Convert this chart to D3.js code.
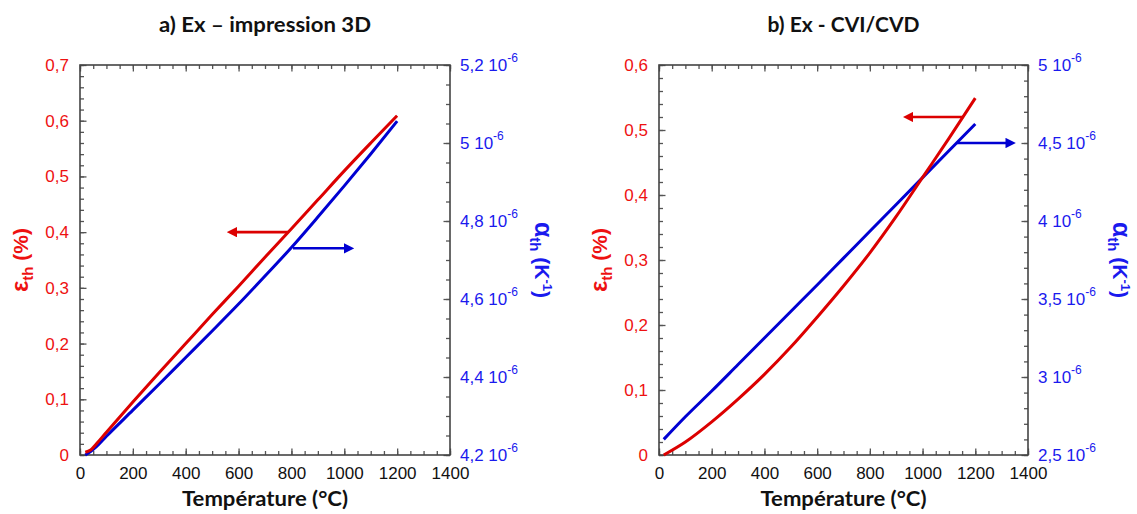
<!DOCTYPE html>
<html><head><meta charset="utf-8">
<script src="https://cdn.jsdelivr.net/npm/d3@7"></script>
<style>html,body{margin:0;padding:0;background:#fff;}svg{display:block;}</style>
</head><body>
<svg id="chart" width="1137" height="514"></svg>
<script>
// ---------- DATA ----------
// Panel a) Ex – impression 3D
const tempA   = [20, 40, 60, 100, 200, 300, 400, 500, 600, 700, 800, 900, 1000, 1100, 1200];
const strainA = [0.005, 0.009, 0.019, 0.041, 0.095, 0.148, 0.200, 0.252, 0.303, 0.355, 0.406, 0.458, 0.510, 0.560, 0.609];
const alphaA  = [4.200, 4.209, 4.220, 4.248, 4.315, 4.382, 4.450, 4.518, 4.587, 4.659, 4.732, 4.810, 4.890, 4.972, 5.056]; // x 10^-6 K^-1
// Panel b) Ex - CVI/CVD
const tempB   = [18, 100, 200, 300, 400, 500, 600, 700, 800, 900, 1000, 1100, 1200];
const strainB = [0.000, 0.020, 0.051, 0.086, 0.124, 0.166, 0.212, 0.260, 0.311, 0.367, 0.427, 0.487, 0.549];
const alphaB  = [2.600, 2.745, 2.910, 3.080, 3.250, 3.420, 3.590, 3.762, 3.934, 4.106, 4.278, 4.450, 4.622]; // x 10^-6 K^-1

// tick values & labels
const tempTicks = [0, 200, 400, 600, 800, 1000, 1200, 1400];
const tempTickLabels = ["0", "200", "400", "600", "800", "1000", "1200", "1400"];
const strainTicksA = [0, 0.1, 0.2, 0.3, 0.4, 0.5, 0.6, 0.7];
const strainTickLabelsA = ["0", "0,1", "0,2", "0,3", "0,4", "0,5", "0,6", "0,7"];
const alphaTicksA = [4.2, 4.4, 4.6, 4.8, 5.0, 5.2];
const alphaTickLabelsA = ["4,2", "4,4", "4,6", "4,8", "5", "5,2"];
const strainTicksB = [0, 0.1, 0.2, 0.3, 0.4, 0.5, 0.6];
const strainTickLabelsB = ["0", "0,1", "0,2", "0,3", "0,4", "0,5", "0,6"];
const alphaTicksB = [2.5, 3.0, 3.5, 4.0, 4.5, 5.0];
const alphaTickLabelsB = ["2,5", "3", "3,5", "4", "4,5", "5"];

// legend arrows: [temperature start, temperature end], level on the axis of the curve
const arrowStrainTempA = [787, 560]; const arrowStrainLevelA = 0.40;
const arrowAlphaTempA  = [806, 1033]; const arrowAlphaLevelA = 4.73;
const arrowStrainTempB = [1155, 930]; const arrowStrainLevelB = 0.52;
const arrowAlphaTempB  = [1130, 1349]; const arrowAlphaLevelB = 4.50;

const titles = ["a) Ex \u2013 impression 3D", "b) Ex - CVI/CVD"];
const xTitle = "Température (°C)";

// ---------- DRAW ----------
const RED = "#dc0000", BLUE = "#0000d2", RED_T = "#ee1111", BLUE_T = "#1a1aee";
const svg = d3.select("#chart");
const defs = svg.append("defs");
[["arrRed", RED], ["arrBlue", BLUE]].forEach(([id, c]) => {
  defs.append("marker").attr("id", id).attr("viewBox", "0 0 10 10").attr("refX", 2).attr("refY", 5)
    .attr("markerWidth", 4).attr("markerHeight", 4).attr("markerUnits", "strokeWidth").attr("orient", "auto")
    .append("path").attr("d", "M0,0 L10,5 L0,10 Z").attr("fill", c);
});

const TICKFONT = "Arial, 'Liberation Sans', Helvetica, sans-serif";
const TITLEFONT = "Lato, 'Open Sans', sans-serif";

function panel(cfg) {
  const { x0, x1, y0, y1 } = cfg;
  const g = svg.append("g");
  const x = d3.scaleLinear().domain([0, 1400]).range([x0, x1]);
  const yL = d3.scaleLinear().domain([cfg.strainTicks[0], cfg.strainTicks[cfg.strainTicks.length - 1]]).range([y1, y0]);
  const yR = d3.scaleLinear().domain([cfg.alphaTicks[0], cfg.alphaTicks[cfg.alphaTicks.length - 1]]).range([y1, y0]);

  const styleAxis = sel => {
    sel.select(".domain").remove();
    sel.selectAll(".tick line").attr("stroke", "#555").attr("stroke-width", 1.3);
    sel.attr("font-size", 17).attr("font-family", TICKFONT);
    sel.selectAll("text").style("font-family", TICKFONT);
  };
  const minorRange = (a, b, step) => d3.range(Math.round(a / step), Math.round(b / step) + 1).map(k => +(k * step).toFixed(4));

  // minor ticks
  const xMinor = minorRange(0, 1400, 50);
  g.append("g").attr("transform", `translate(0,${y1})`).call(d3.axisBottom(x).tickValues(xMinor).tickSize(-4).tickFormat("")).call(styleAxis);
  g.append("g").attr("transform", `translate(0,${y0})`).call(d3.axisTop(x).tickValues(xMinor).tickSize(-4).tickFormat("")).call(styleAxis);
  g.append("g").attr("transform", `translate(${x0},0)`).call(d3.axisLeft(yL).tickValues(minorRange(yL.domain()[0], yL.domain()[1], 0.02)).tickSize(-4).tickFormat("")).call(styleAxis);
  g.append("g").attr("transform", `translate(${x1},0)`).call(d3.axisRight(yR).tickValues(minorRange(yR.domain()[0], yR.domain()[1], cfg.alphaMinor)).tickSize(-4).tickFormat("")).call(styleAxis);

  // major ticks
  g.append("g").attr("transform", `translate(0,${y1})`)
    .call(d3.axisBottom(x).tickValues(tempTicks).tickSizeInner(-6.5).tickSizeOuter(0).tickPadding(12)
      .tickFormat(d => tempTickLabels[tempTicks.indexOf(d)]))
    .call(styleAxis).selectAll("text").attr("fill", "#111");
  g.append("g").attr("transform", `translate(0,${y0})`)
    .call(d3.axisTop(x).tickValues(tempTicks).tickSizeInner(-6.5).tickSizeOuter(0).tickFormat("")).call(styleAxis);
  g.append("g").attr("transform", `translate(${x0},0)`)
    .call(d3.axisLeft(yL).tickValues(cfg.strainTicks).tickSizeInner(-6.5).tickSizeOuter(0).tickPadding(11)
      .tickFormat(d => cfg.strainLabels[cfg.strainTicks.indexOf(d)]))
    .call(styleAxis).selectAll("text").attr("fill", RED_T);
  const ra = g.append("g").attr("transform", `translate(${x1},0)`)
    .call(d3.axisRight(yR).tickValues(cfg.alphaTicks).tickSizeInner(-6.5).tickSizeOuter(0).tickPadding(10)
      .tickFormat(d => cfg.alphaLabels[cfg.alphaTicks.indexOf(d)]))
    .call(styleAxis);
  ra.selectAll("text").attr("fill", BLUE_T).each(function (d) {
    const t = d3.select(this);
    const lab = cfg.alphaLabels[cfg.alphaTicks.indexOf(d)];
    t.text(null);
    t.append("tspan").text(lab + " 10");
    t.append("tspan").attr("font-size", 12).attr("dy", -9).text("-6");
  });

  // frame
  g.append("rect").attr("x", x0).attr("y", y0).attr("width", x1 - x0).attr("height", y1 - y0)
    .attr("fill", "none").attr("stroke", "#444").attr("stroke-width", 1.6);

  // curves
  const lineL = d3.line().x((d, i) => x(cfg.temp[i])).y(d => yL(d)).curve(d3.curveMonotoneX);
  const lineR = d3.line().x((d, i) => x(cfg.temp[i])).y(d => yR(d)).curve(d3.curveMonotoneX);
  g.append("path").attr("d", lineR(cfg.alpha)).attr("fill", "none").attr("stroke", BLUE).attr("stroke-width", 3);
  g.append("path").attr("d", lineL(cfg.strain)).attr("fill", "none").attr("stroke", RED).attr("stroke-width", 3);

  // arrows
  g.append("line").attr("x1", x(cfg.arrS[0])).attr("x2", x(cfg.arrS[1]) + 7).attr("y1", yL(cfg.arrSLevel)).attr("y2", yL(cfg.arrSLevel))
    .attr("stroke", RED).attr("stroke-width", 2.6).attr("marker-end", "url(#arrRed)");
  g.append("line").attr("x1", x(cfg.arrA[0])).attr("x2", x(cfg.arrA[1]) - 7).attr("y1", yR(cfg.arrALevel)).attr("y2", yR(cfg.arrALevel))
    .attr("stroke", BLUE).attr("stroke-width", 2.6).attr("marker-end", "url(#arrBlue)");

  // titles
  const cx = (x0 + x1) / 2;
  g.append("text").attr("x", cx).attr("y", 32).attr("text-anchor", "middle")
    .attr("font-family", TITLEFONT).attr("font-weight", 700).attr("font-size", 20).attr("fill", "#111")
    .attr("textLength", cfg.titleLen).attr("lengthAdjust", "spacingAndGlyphs").text(cfg.title);
  g.append("text").attr("x", cx).attr("y", 506).attr("text-anchor", "middle")
    .attr("font-family", TITLEFONT).attr("font-weight", 700).attr("font-size", 21).attr("fill", "#111")
    .attr("textLength", 166).attr("lengthAdjust", "spacingAndGlyphs").text(xTitle);

  const cy = (y0 + y1) / 2;
  const lt = g.append("text").attr("transform", `translate(${x0 - 52},${cy}) rotate(-90)`).attr("text-anchor", "middle")
    .style("font-family", TICKFONT).attr("font-weight", 700).attr("fill", RED_T);
  lt.append("tspan").attr("font-size", 24).text("ε");
  lt.append("tspan").attr("font-size", 15).attr("dy", 5).text("th");
  lt.append("tspan").attr("font-size", 21).attr("dy", -5).text(" (%)");

  const rt = g.append("text").attr("transform", `translate(${x1 + 85},${cy}) rotate(90)`).attr("text-anchor", "middle")
    .style("font-family", TICKFONT).attr("font-weight", 700).attr("fill", BLUE_T);
  rt.append("tspan").attr("font-size", 25).text("α");
  rt.append("tspan").attr("font-size", 15).attr("dy", 5).text("th");
  rt.append("tspan").attr("font-size", 21).attr("dy", -5).text(" (K");
  rt.append("tspan").attr("font-size", 13).attr("dy", -8).text("-1");
  rt.append("tspan").attr("font-size", 21).attr("dy", 8).text(")");
}

panel({ x0: 80, x1: 450, y0: 65, y1: 455, temp: tempA, strain: strainA, alpha: alphaA,
  strainTicks: strainTicksA, strainLabels: strainTickLabelsA, alphaTicks: alphaTicksA, alphaLabels: alphaTickLabelsA, alphaMinor: 0.05,
  arrS: arrowStrainTempA, arrSLevel: arrowStrainLevelA, arrA: arrowAlphaTempA, arrALevel: arrowAlphaLevelA,
  title: titles[0], titleLen: 212 });
panel({ x0: 659, x1: 1028, y0: 65, y1: 455, temp: tempB, strain: strainB, alpha: alphaB,
  strainTicks: strainTicksB, strainLabels: strainTickLabelsB, alphaTicks: alphaTicksB, alphaLabels: alphaTickLabelsB, alphaMinor: 0.1,
  arrS: arrowStrainTempB, arrSLevel: arrowStrainLevelB, arrA: arrowAlphaTempB, arrALevel: arrowAlphaLevelB,
  title: titles[1], titleLen: 152 });
</script>
</body></html>
